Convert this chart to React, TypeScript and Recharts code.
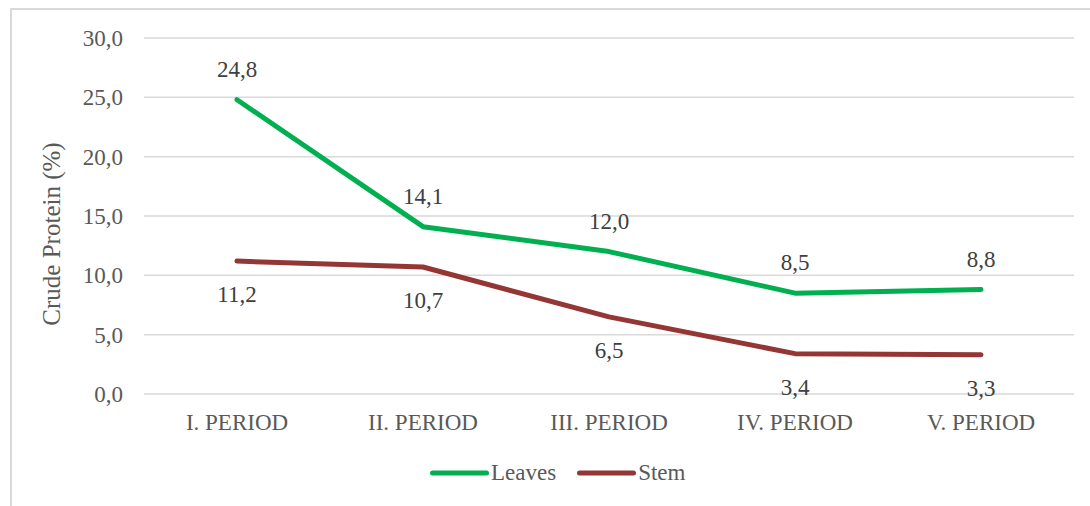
import { LineChart, Line, XAxis, YAxis, CartesianGrid, Legend, LabelList } from 'recharts';

const periods = ['I. PERIOD', 'II. PERIOD', 'III. PERIOD', 'IV. PERIOD', 'V. PERIOD'];
const leaves = [24.8, 14.1, 12.0, 8.5, 8.8];
const stem = [11.2, 10.7, 6.5, 3.4, 3.3];
const yTicks = [0, 5, 10, 15, 20, 25, 30];

const data = periods.map((period, i) => ({ period, leaves: leaves[i], stem: stem[i] }));

const fmt = (v: number) => Number(v).toFixed(1).replace('.', ',');

const FONT = "'Liberation Serif', 'DejaVu Serif', serif";

const YTitle = ({ viewBox }: any) => {
  const cx = viewBox.x + 50;
  const cy = viewBox.y + viewBox.height / 2 + 18;
  return (
    <text
      x={cx}
      y={cy}
      transform={`rotate(-90 ${cx} ${cy})`}
      textAnchor="middle"
      fill="#595959"
      fontSize={25}
      style={{ fontFamily: FONT }}
    >
      Crude Protein (%)
    </text>
  );
};

const renderLegend = (props: any) => (
  <div style={{ display: 'flex', alignItems: 'center', fontFamily: FONT }}>
    {(props.payload || []).map((entry: any) => (
      <div key={entry.value} style={{ display: 'flex', alignItems: 'center', marginRight: 21 }}>
        <svg width={59} height={10}>
          <line x1={2.5} y1={5} x2={56.5} y2={5} stroke={entry.color} strokeWidth={5} strokeLinecap="round" />
        </svg>
        <span style={{ fontSize: 23, color: '#595959', lineHeight: '26px', marginLeft: 2 }}>{entry.value}</span>
      </div>
    ))}
  </div>
);

export default function App() {
  return (
    <div style={{ position: 'absolute', left: 0, top: 0, width: 1090, height: 506, overflow: 'hidden', background: '#fff', fontFamily: FONT }}>
      <div
        style={{
          position: 'absolute',
          left: 10,
          top: 8,
          width: 1100,
          height: 600,
          border: '2px solid #d9d9d9',
          boxSizing: 'border-box',
        }}
      />
      <LineChart
        width={1090}
        height={506}
        data={data}
        margin={{ top: 38, right: 16, bottom: 82, left: 10 }}
        style={{ fontFamily: FONT }}
      >
        <CartesianGrid vertical={false} stroke="#d9d9d9" strokeWidth={1.5} />
        <XAxis
          dataKey="period"
          height={30}
          padding={{ left: 93, right: 93 }}
          axisLine={false}
          tickLine={false}
          tickSize={0}
          tickMargin={20}
          tick={{ fill: '#595959', fontSize: 23, style: { fontFamily: FONT } }}
        />
        <YAxis
          width={134}
          domain={[0, 30]}
          ticks={yTicks}
          axisLine={false}
          tickLine={false}
          tickSize={0}
          tickMargin={21}
          tickFormatter={fmt}
          tick={{ fill: '#595959', fontSize: 23, style: { fontFamily: FONT } }}
          label={<YTitle />}
        />
        <Legend
          layout="horizontal"
          verticalAlign="middle"
          align="center"
          content={renderLegend}
          wrapperStyle={{ left: 430, top: 460, width: 'auto' }}
        />
        <Line
          type="linear"
          dataKey="leaves"
          name="Leaves"
          stroke="#00b050"
          strokeWidth={5}
          strokeLinecap="round"
          strokeLinejoin="round"
          dot={false}
          activeDot={false}
          isAnimationActive={false}
        >
          <LabelList
            dataKey="leaves"
            position="top"
            offset={23}
            formatter={(v: any) => fmt(v)}
            fill="#404040"
            fontSize={23}
            style={{ fontFamily: FONT }}
          />
        </Line>
        <Line
          type="linear"
          dataKey="stem"
          name="Stem"
          stroke="#943634"
          strokeWidth={5}
          strokeLinecap="round"
          strokeLinejoin="round"
          dot={false}
          activeDot={false}
          isAnimationActive={false}
        >
          <LabelList
            dataKey="stem"
            position="bottom"
            offset={25}
            formatter={(v: any) => fmt(v)}
            fill="#404040"
            fontSize={23}
            style={{ fontFamily: FONT }}
          />
        </Line>
      </LineChart>
    </div>
  );
}
